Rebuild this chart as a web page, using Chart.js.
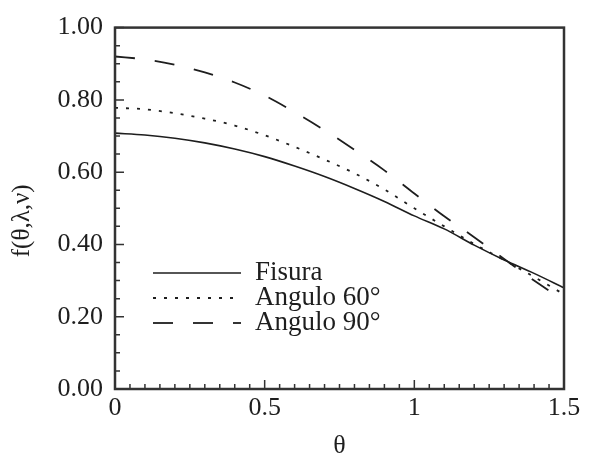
<!DOCTYPE html>
<html>
<head>
<meta charset="utf-8">
<script src="https://cdn.jsdelivr.net/npm/chart.js@4.4.1/dist/chart.umd.min.js"></script>
<style>
  html, body { margin: 0; padding: 0; background: #fff; }
  #wrap { width: 593px; height: 455px; }
</style>
</head>
<body>
<div id="wrap"><canvas id="chart" width="593" height="455"></canvas></div>
<script>
// values
const theta = [0, 0.1, 0.2, 0.3, 0.4, 0.5, 0.6, 0.7, 0.8, 0.9, 1.0, 1.1, 1.2, 1.3, 1.4, 1.5];
const fisura   = [0.708, 0.703, 0.694, 0.681, 0.664, 0.643, 0.617, 0.588, 0.555, 0.519, 0.479, 0.443, 0.398, 0.357, 0.320, 0.280];
const angulo60 = [0.778, 0.774, 0.763, 0.748, 0.729, 0.702, 0.670, 0.635, 0.597, 0.552, 0.500, 0.450, 0.401, 0.357, 0.310, 0.262];
const angulo90 = [0.920, 0.912, 0.897, 0.876, 0.848, 0.812, 0.766, 0.716, 0.662, 0.605, 0.541, 0.478, 0.420, 0.360, 0.300, 0.245];
const seriesNames = ['Fisura', 'Angulo 60°', 'Angulo 90°'];
const yTicks = [0, 0.2, 0.4, 0.6, 0.8, 1.0];
const xTicks = [0, 0.5, 1, 1.5];

const FONT = '"Liberation Serif", "DejaVu Serif", serif';
const INK = '#1e1e1e';

function pts(ys) {
  return theta.map(function(t, i) { return { x: t, y: ys[i] }; });
}

// frame, inward ticks and legend inside the plot
const framePlugin = {
  id: 'frame',
  afterDraw: function(chart) {
    const ctx = chart.ctx;
    const a = chart.chartArea;
    const xs = chart.scales.x, ys = chart.scales.y;
    ctx.save();
    ctx.strokeStyle = '#333';
    ctx.lineWidth = 2.5;
    ctx.strokeRect(a.left, a.top, a.right - a.left, a.bottom - a.top);

    ctx.lineWidth = 1.5;
    ctx.beginPath();
    for (let i = 0; i <= 30; i++) {
      const v = i * 0.05;
      const px = xs.getPixelForValue(v);
      const len = (i % 10 === 0) ? 9 : 5;
      ctx.moveTo(px, a.bottom);
      ctx.lineTo(px, a.bottom - len);
    }
    for (let i = 0; i <= 20; i++) {
      const v = i * 0.05;
      const py = ys.getPixelForValue(v);
      const len = (i % 4 === 0) ? 9 : 5;
      ctx.moveTo(a.left, py);
      ctx.lineTo(a.left + len, py);
    }
    ctx.stroke();

    // legend
    const lx0 = 153, lx1 = 241, ly0 = 273, step = 25;
    chart.data.datasets.forEach(function(ds, i) {
      const y = ly0 + i * step;
      ctx.strokeStyle = ds.borderColor;
      ctx.lineWidth = ds.borderWidth;
      ctx.setLineDash(ds.borderDash || []);
      ctx.beginPath();
      ctx.moveTo(lx0, y);
      ctx.lineTo(lx1, y);
      ctx.stroke();
      ctx.setLineDash([]);
      ctx.fillStyle = INK;
      ctx.font = '27px ' + FONT;
      ctx.textBaseline = 'middle';
      ctx.textAlign = 'left';
      ctx.fillText(ds.label, 255, y);
    });
    ctx.restore();
  }
};

new Chart(document.getElementById('chart'), {
  type: 'line',
  data: {
    datasets: [{
      label: seriesNames[0],
      data: pts(fisura),
      borderColor: INK,
      borderWidth: 1.6,
      pointRadius: 0,
      cubicInterpolationMode: 'monotone'
    }, {
      label: seriesNames[1],
      data: pts(angulo60),
      borderColor: INK,
      borderWidth: 1.8,
      borderDash: [3, 8],
      pointRadius: 0,
      cubicInterpolationMode: 'monotone'
    }, {
      label: seriesNames[2],
      data: pts(angulo90),
      borderColor: INK,
      borderWidth: 1.8,
      borderDash: [20, 20],
      pointRadius: 0,
      cubicInterpolationMode: 'monotone'
    }]
  },
  options: {
    responsive: false,
    animation: false,
    layout: { padding: { top: 19, right: 29, left: 0, bottom: 0 } },
    plugins: { legend: { display: false }, tooltip: { enabled: false } },
    scales: {
      x: {
        type: 'linear',
        min: 0, max: 1.5,
        afterFit: function(s) { s.height = 66; },
        afterBuildTicks: function(s) { s.ticks = xTicks.map(function(v) { return { value: v }; }); },
        grid: { display: false, drawTicks: false },
        border: { display: false },
        ticks: {
          color: INK, padding: 4,
          font: { family: FONT, size: 26 },
          callback: function(v) { return String(v); }
        },
        title: {
          display: true, text: 'θ', color: INK,
          font: { family: FONT, size: 26, lineHeight: 1 },
          padding: { top: 0, bottom: -4 }
        }
      },
      y: {
        min: 0, max: 1,
        afterFit: function(s) { s.width = 115; },
        afterBuildTicks: function(s) { s.ticks = yTicks.map(function(v) { return { value: v }; }); },
        grid: { display: false, drawTicks: false },
        border: { display: false },
        ticks: {
          color: INK, padding: 12,
          font: { family: FONT, size: 26 },
          callback: function(v) { return Number(v).toFixed(2); }
        },
        title: {
          display: true, text: 'f(θ,λ,ν)    ', color: INK,
          font: { family: FONT, size: 25 },
          padding: { top: 7, bottom: 0 }
        }
      }
    }
  },
  plugins: [framePlugin]
});
</script>
</body>
</html>
